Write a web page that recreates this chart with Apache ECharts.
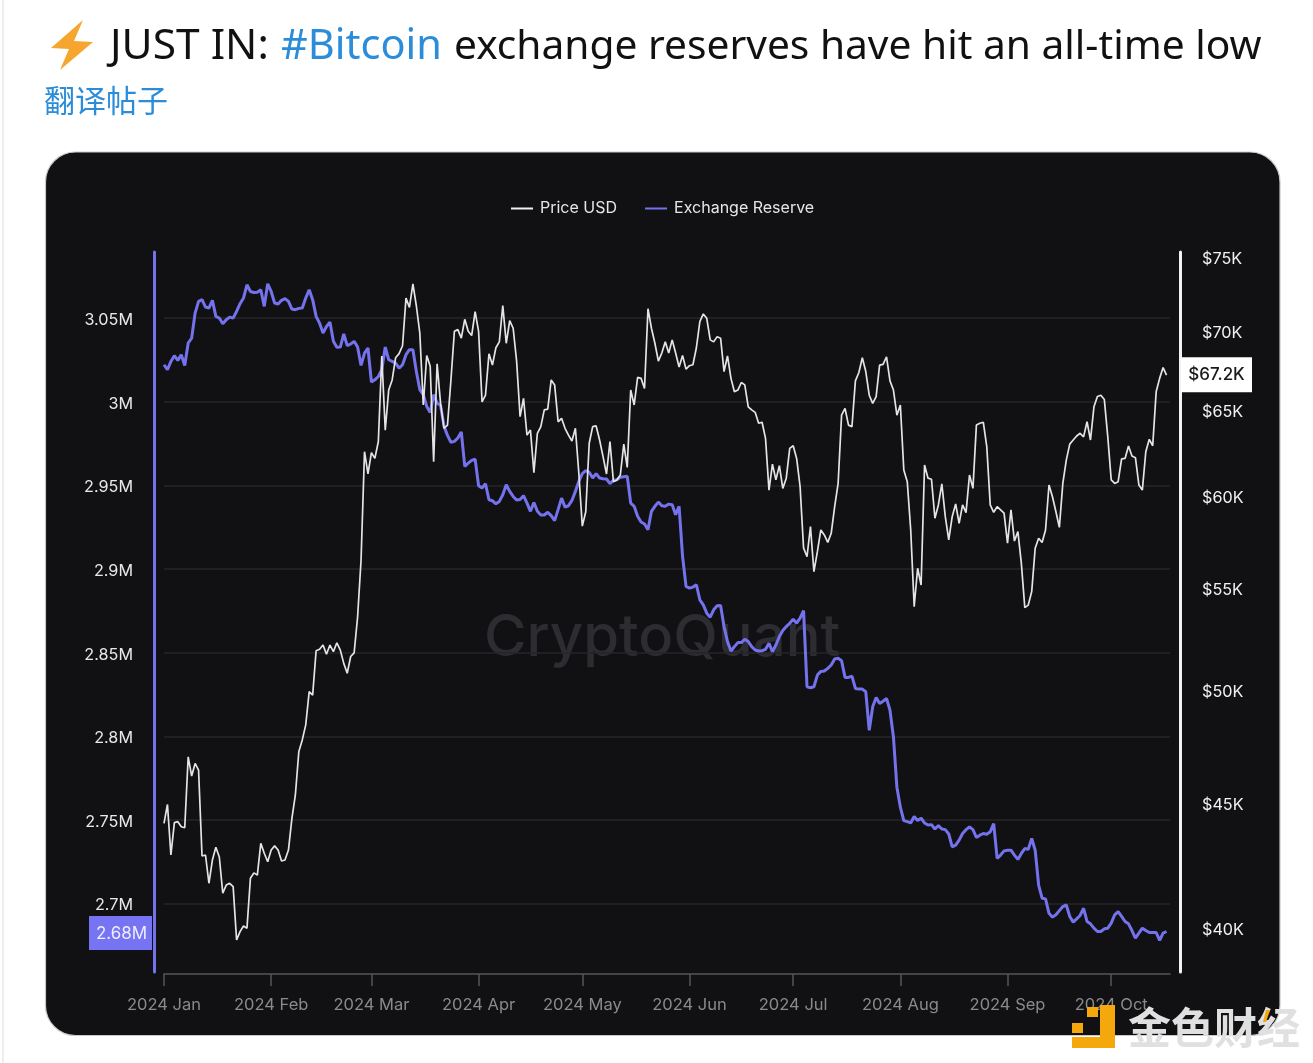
<!DOCTYPE html>
<html><head><meta charset="utf-8">
<style>html,body{margin:0;padding:0;background:#fff;overflow:hidden}#c{width:1313px;height:1063px}</style>
<script src="https://cdn.jsdelivr.net/npm/echarts@6/dist/echarts.min.js"></script>
</head><body><div id="c"></div>
<script>
const seriesNames = ['Price USD', 'Exchange Reserve'];
const monthLabels = ['2024 Jan','2024 Feb','2024 Mar','2024 Apr','2024 May','2024 Jun','2024 Jul','2024 Aug','2024 Sep','2024 Oct'];
const reserveTicks = [2.7,2.75,2.8,2.85,2.9,2.95,3,3.05];
const priceTicks = [40000,45000,50000,55000,60000,65000,70000,75000];
const priceUSD = [
44160,44950,42870,44190,44230,44020,43980,47000,46160,46710,46420,42830,42870,41750,42670,43180,42790,41360,41680,41750,
41620,39590,39900,40110,40030,41950,42160,42070,43340,42940,42600,43070,43240,43070,42630,42670,43070,44370,45350,47230,
47750,48430,49960,49800,51910,51980,52190,51740,52190,51870,52300,51940,51300,50830,51630,51810,53580,56500,62550,61260,
62500,62160,63150,68420,63830,66270,66900,68310,68570,69080,72230,71610,73200,71700,69900,65350,68450,67760,61970,67920,
65450,63940,64130,66900,70020,70130,69570,70810,70020,69740,71320,70020,65540,65950,68560,67840,68950,69330,71730,69240,
70730,70220,68090,64640,65760,63530,63830,61330,63640,64040,65050,65100,66900,66590,64330,64540,63940,63530,63180,63940,
61290,58340,59130,63050,64040,64080,63240,62260,61260,63150,60820,60920,61200,63000,61640,66270,65350,67060,67000,66370,
71520,70220,69240,68090,68610,69330,68610,69460,68610,67710,68450,67580,67800,67860,68950,70660,71170,70880,69460,69330,
69670,69570,67430,68420,67000,66160,66270,66740,66590,65240,65050,64900,64240,64300,63340,60340,61830,60920,61740,60440,
61020,62750,62900,62160,60540,57160,56690,58310,55900,56960,58130,57860,57460,57950,59410,60720,64730,65140,64130,64040,
66840,67370,68310,67430,65950,65450,65870,67840,67880,68370,66840,66270,64730,65350,61490,60820,58130,54100,56080,55210,
61780,61020,60960,58770,59510,60690,58860,57590,58860,59560,58490,59510,59080,61200,60440,64130,64240,64300,62850,59510,
59100,59410,59230,59050,57410,59230,57530,58040,56340,54050,54180,54870,57140,57680,57450,58130,60630,59970,59130,58270,
60720,62060,63000,63240,63480,63640,63430,64330,63240,65240,65870,65950,65690,63430,60920,60720,60820,62130,62160,62890,
62300,62200,60630,60340,62550,63280,62900,66160,67000,67680,67200];
const exchangeReserve = [
3.0221,3.0191,3.0241,3.0275,3.0247,3.0281,3.0217,3.0351,3.0380,3.053,3.06,3.061,3.0566,3.056,3.0606,3.051,3.05,3.0466,3.049,3.0506,
3.05,3.054,3.0586,3.062,3.0699,3.0659,3.0653,3.0655,3.0669,3.057,3.0705,3.0659,3.059,3.0584,3.0606,3.0616,3.06,3.0554,3.055,3.0558,
3.056,3.062,3.0669,3.061,3.051,3.047,3.041,3.045,3.0476,3.0361,3.0325,3.0327,3.0406,3.0335,3.0345,3.0361,3.0327,3.0217,3.0291,3.0321,
3.0118,3.0131,3.0151,3.0191,3.0327,3.0251,3.0241,3.0231,3.0201,3.0221,3.0281,3.0311,3.0311,3.0181,3.0072,3.0042,2.9972,2.9936,3.0042,2.9992,
2.9978,2.9853,2.9799,2.9757,2.9763,2.9783,2.9819,2.9614,2.9633,2.9649,2.9657,2.9498,2.9484,2.951,2.9414,2.9408,2.939,2.9404,2.9444,2.9504,
2.9464,2.9434,2.9412,2.9416,2.9438,2.9394,2.9345,2.9398,2.9345,2.9323,2.9323,2.9339,2.9319,2.9289,2.9355,2.9424,2.937,2.9378,2.941,2.9464,
2.9524,2.957,2.9588,2.9578,2.9544,2.957,2.9544,2.954,2.9538,2.951,2.953,2.9534,2.9548,2.9552,2.9554,2.9394,2.9375,2.9315,2.9281,2.9269,
2.9235,2.9345,2.9375,2.94,2.9378,2.9375,2.9388,2.9384,2.9325,2.9375,2.9076,2.8896,2.8886,2.8892,2.8906,2.8816,2.8786,2.8736,2.8712,2.8756,
2.878,2.8782,2.8656,2.8566,2.851,2.8536,2.856,2.856,2.858,2.8566,2.8536,2.8516,2.851,2.8512,2.852,2.8556,2.8506,2.8546,2.8596,2.8632,
2.8656,2.8676,2.87,2.8676,2.8706,2.8752,2.8296,2.829,2.8296,2.8366,2.8388,2.839,2.8406,2.8426,2.8462,2.8466,2.8452,2.8352,2.8352,2.836,
2.8286,2.8282,2.8282,2.8266,2.8036,2.8176,2.8232,2.8196,2.821,2.8226,2.8156,2.7996,2.7696,2.7576,2.7496,2.749,2.7482,2.752,2.7496,2.751,
2.7482,2.747,2.7472,2.7446,2.7466,2.7446,2.7442,2.7416,2.7339,2.7349,2.7379,2.7419,2.7442,2.7458,2.7442,2.7395,2.7409,2.7419,2.7415,2.7429,
2.7478,2.727,2.729,2.7315,2.7319,2.7319,2.729,2.7264,2.73,2.7329,2.7325,2.7389,2.7319,2.7111,2.7032,2.7028,2.6942,2.6919,2.6933,2.6958,
2.6982,2.6992,2.6923,2.6889,2.6909,2.6929,2.6972,2.6893,2.6879,2.6853,2.6833,2.6833,2.6849,2.6853,2.6883,2.6933,2.6952,2.6923,2.6893,2.6879,
2.6839,2.6794,2.6823,2.6853,2.6839,2.6827,2.6827,2.6827,2.678,2.6823,2.6833];

// one category per calendar day, Jan 1 to Oct 19 2024
const days = [];
for (let i = 0; i < 292; i++) days.push(new Date(Date.UTC(2024,0,1+i)).toISOString().slice(0,10));
const isMonthStart = (i, v) => v.slice(8) === '01';
const PURPLE = '#7472ec', BLUE = '#2b8dd9', FONT = 'Inter, "Noto Sans", sans-serif';
const titleFont = size => size + 'px "Noto Sans", sans-serif';
const fmtPrice = v => '{a|$' + (v/1000) + 'K}';

const chart = echarts.init(document.getElementById('c'), null, {width:1313, height:1063});
const lastReserve = exchangeReserve[exchangeReserve.length-1];
const lastPrice = priceUSD[priceUSD.length-1];

const option = {
  animation:false,
  backgroundColor:'#ffffff',
  textStyle:{fontFamily:FONT},
  grid:{left:164, top:252, width:1006, height:720, containLabel:false},
  legend:{
    left:506, top:195.5, itemWidth:22, itemHeight:2, itemGap:28, icon:'rect',
    data:seriesNames,
    textStyle:{color:'#e6e6e8', fontSize:16, fontFamily:FONT, padding:[0,0,0,2]}
  },
  xAxis:{
    type:'category', data:days, boundaryGap:false, offset:2,
    axisLine:{show:true, onZero:false, lineStyle:{color:'#55555a', width:1.5}},
    axisTick:{show:true, length:12, alignWithLabel:true, interval:isMonthStart, lineStyle:{color:'#55555a', width:1.5}},
    splitLine:{show:false},
    axisLabel:{
      color:'#8a8a8e', fontSize:16.5, fontFamily:FONT, margin:23, interval:isMonthStart, hideOverlap:false,
      formatter:v => monthLabels[+v.slice(5,7)-1]
    }
  },
  yAxis:[{
    type:'value', position:'left', min:2.6591, max:3.0895, offset:10,
    axisLine:{show:true, onZero:false, lineStyle:{color:PURPLE, width:3}},
    axisTick:{show:false},
    axisLabel:{margin:21, customValues:reserveTicks, formatter:v=>'{a|'+v+'M}',
      rich:{a:{color:'#e8e8ea', fontSize:16.2, fontFamily:FONT, padding:[4,0,0,0]}}},
    splitLine:{show:false}
  },{
    type:'log', logBase:10, position:'right', min:38420, max:75420, offset:10,
    axisLine:{show:true, onZero:false, lineStyle:{color:'#f2f2f2', width:3}},
    axisTick:{show:false},
    axisLabel:{margin:22, customValues:priceTicks, formatter:fmtPrice,
      rich:{a:{color:'#f0f0f0', fontSize:16.2, fontFamily:FONT, padding:[3,0,0,0]}}},
    splitLine:{show:false}
  }],
  series:[
    {name:'Exchange Reserve', type:'line', yAxisIndex:0, symbol:'none', z:3,
      lineStyle:{color:PURPLE, width:3}, itemStyle:{color:PURPLE},
      markLine:{silent:true, symbol:'none', label:{show:false}, z:1, animation:false,
        lineStyle:{color:'#26262a', width:1.5, type:'solid'},
        data:reserveTicks.map(v=>({yAxis:v}))},
      data:exchangeReserve},
    {name:'Price USD', type:'line', yAxisIndex:1, symbol:'none', z:4,
      lineStyle:{color:'#e4e4e4', width:1.7}, itemStyle:{color:'#f0f0f0'},
      data:priceUSD}
  ],
  graphic:[]
};
chart.setOption(option);

const yR = chart.convertToPixel({yAxisIndex:0}, lastReserve) + 1.5;
const yP = chart.convertToPixel({yAxisIndex:1}, lastPrice) - 0.5;

chart.setOption({graphic:[
  {type:'rect', z:-10, shape:{x:45.5,y:152,width:1234.5,height:883.5,r:30}, style:{fill:'#111114',stroke:'#c9c9cc',lineWidth:1.2}},
  {type:'rect', z:-10, shape:{x:2,y:0,width:2,height:1063}, style:{fill:'#eeeeee'}},
  {type:'text', z:-5, x:484, y:610, style:{text:'CryptoQuant', font:'500 58px Inter, sans-serif', fill:'#2c2c31'}},
  {type:'polygon', z:-5, shape:{points:[[83,20],[51,48],[69,49],[60,70],[93,42],[74,41]]}, style:{fill:'#f6a62e'}},
  {type:'text', z:-5, x:110, y:25.5, style:{text:'JUST IN:', font:titleFont(42.5), fill:'#111111'}},
  {type:'text', z:-5, x:281, y:26, style:{text:'#Bitcoin', font:titleFont(41.5), fill:BLUE}},
  {type:'text', z:-5, x:454, y:26.5, style:{text:'exchange reserves have hit an all-time low', font:titleFont(40.7), fill:'#111111'}},
  {type:'text', z:-5, x:44, y:85, style:{text:'翻译帖子', font:'400 31px "Noto Sans CJK SC", sans-serif', fill:BLUE}},
  {type:'rect', z:50, shape:{x:89,y:yR-17,width:63,height:34}, style:{fill:'#7674f2'}},
  {type:'text', z:51, x:121.5, y:yR+0.5, style:{text:'2.68M', font:'17px Inter, sans-serif', fill:'#eeeefc', align:'center', verticalAlign:'middle'}},
  {type:'rect', z:50, shape:{x:1181,y:yP-17.5,width:71,height:35}, style:{fill:'#ffffff'}},
  {type:'text', z:51, x:1216.5, y:yP+0.5, style:{text:'$67.2K', font:'500 17px Inter, sans-serif', fill:'#1a1a1a', align:'center', verticalAlign:'middle'}},
  {type:'polygon', z:60, shape:{points:[[1100,1005],[1115,1005],[1115,1048],[1072,1048],[1072,1037],[1100,1037]]}, style:{fill:'#f5a80c'}},
  {type:'rect', z:60, shape:{x:1087,y:1007,width:11,height:10}, style:{fill:'#f5a80c'}},
  {type:'rect', z:60, shape:{x:1072,y:1023,width:11,height:10}, style:{fill:'#f5a80c'}},
  {type:'text', z:60, x:1128, y:1006, style:{text:'金色财经', font:'700 43px "Noto Sans CJK SC", sans-serif', fill:'#e0e0e0', shadowColor:'rgba(120,120,120,0.7)', shadowBlur:3, shadowOffsetX:1, shadowOffsetY:1}},
  {type:'polygon', z:61, shape:{points:[[1266,1010],[1270,1010],[1266,1022],[1263,1022]]}, style:{fill:'#f5a80c'}}
]});
</script></body></html>
